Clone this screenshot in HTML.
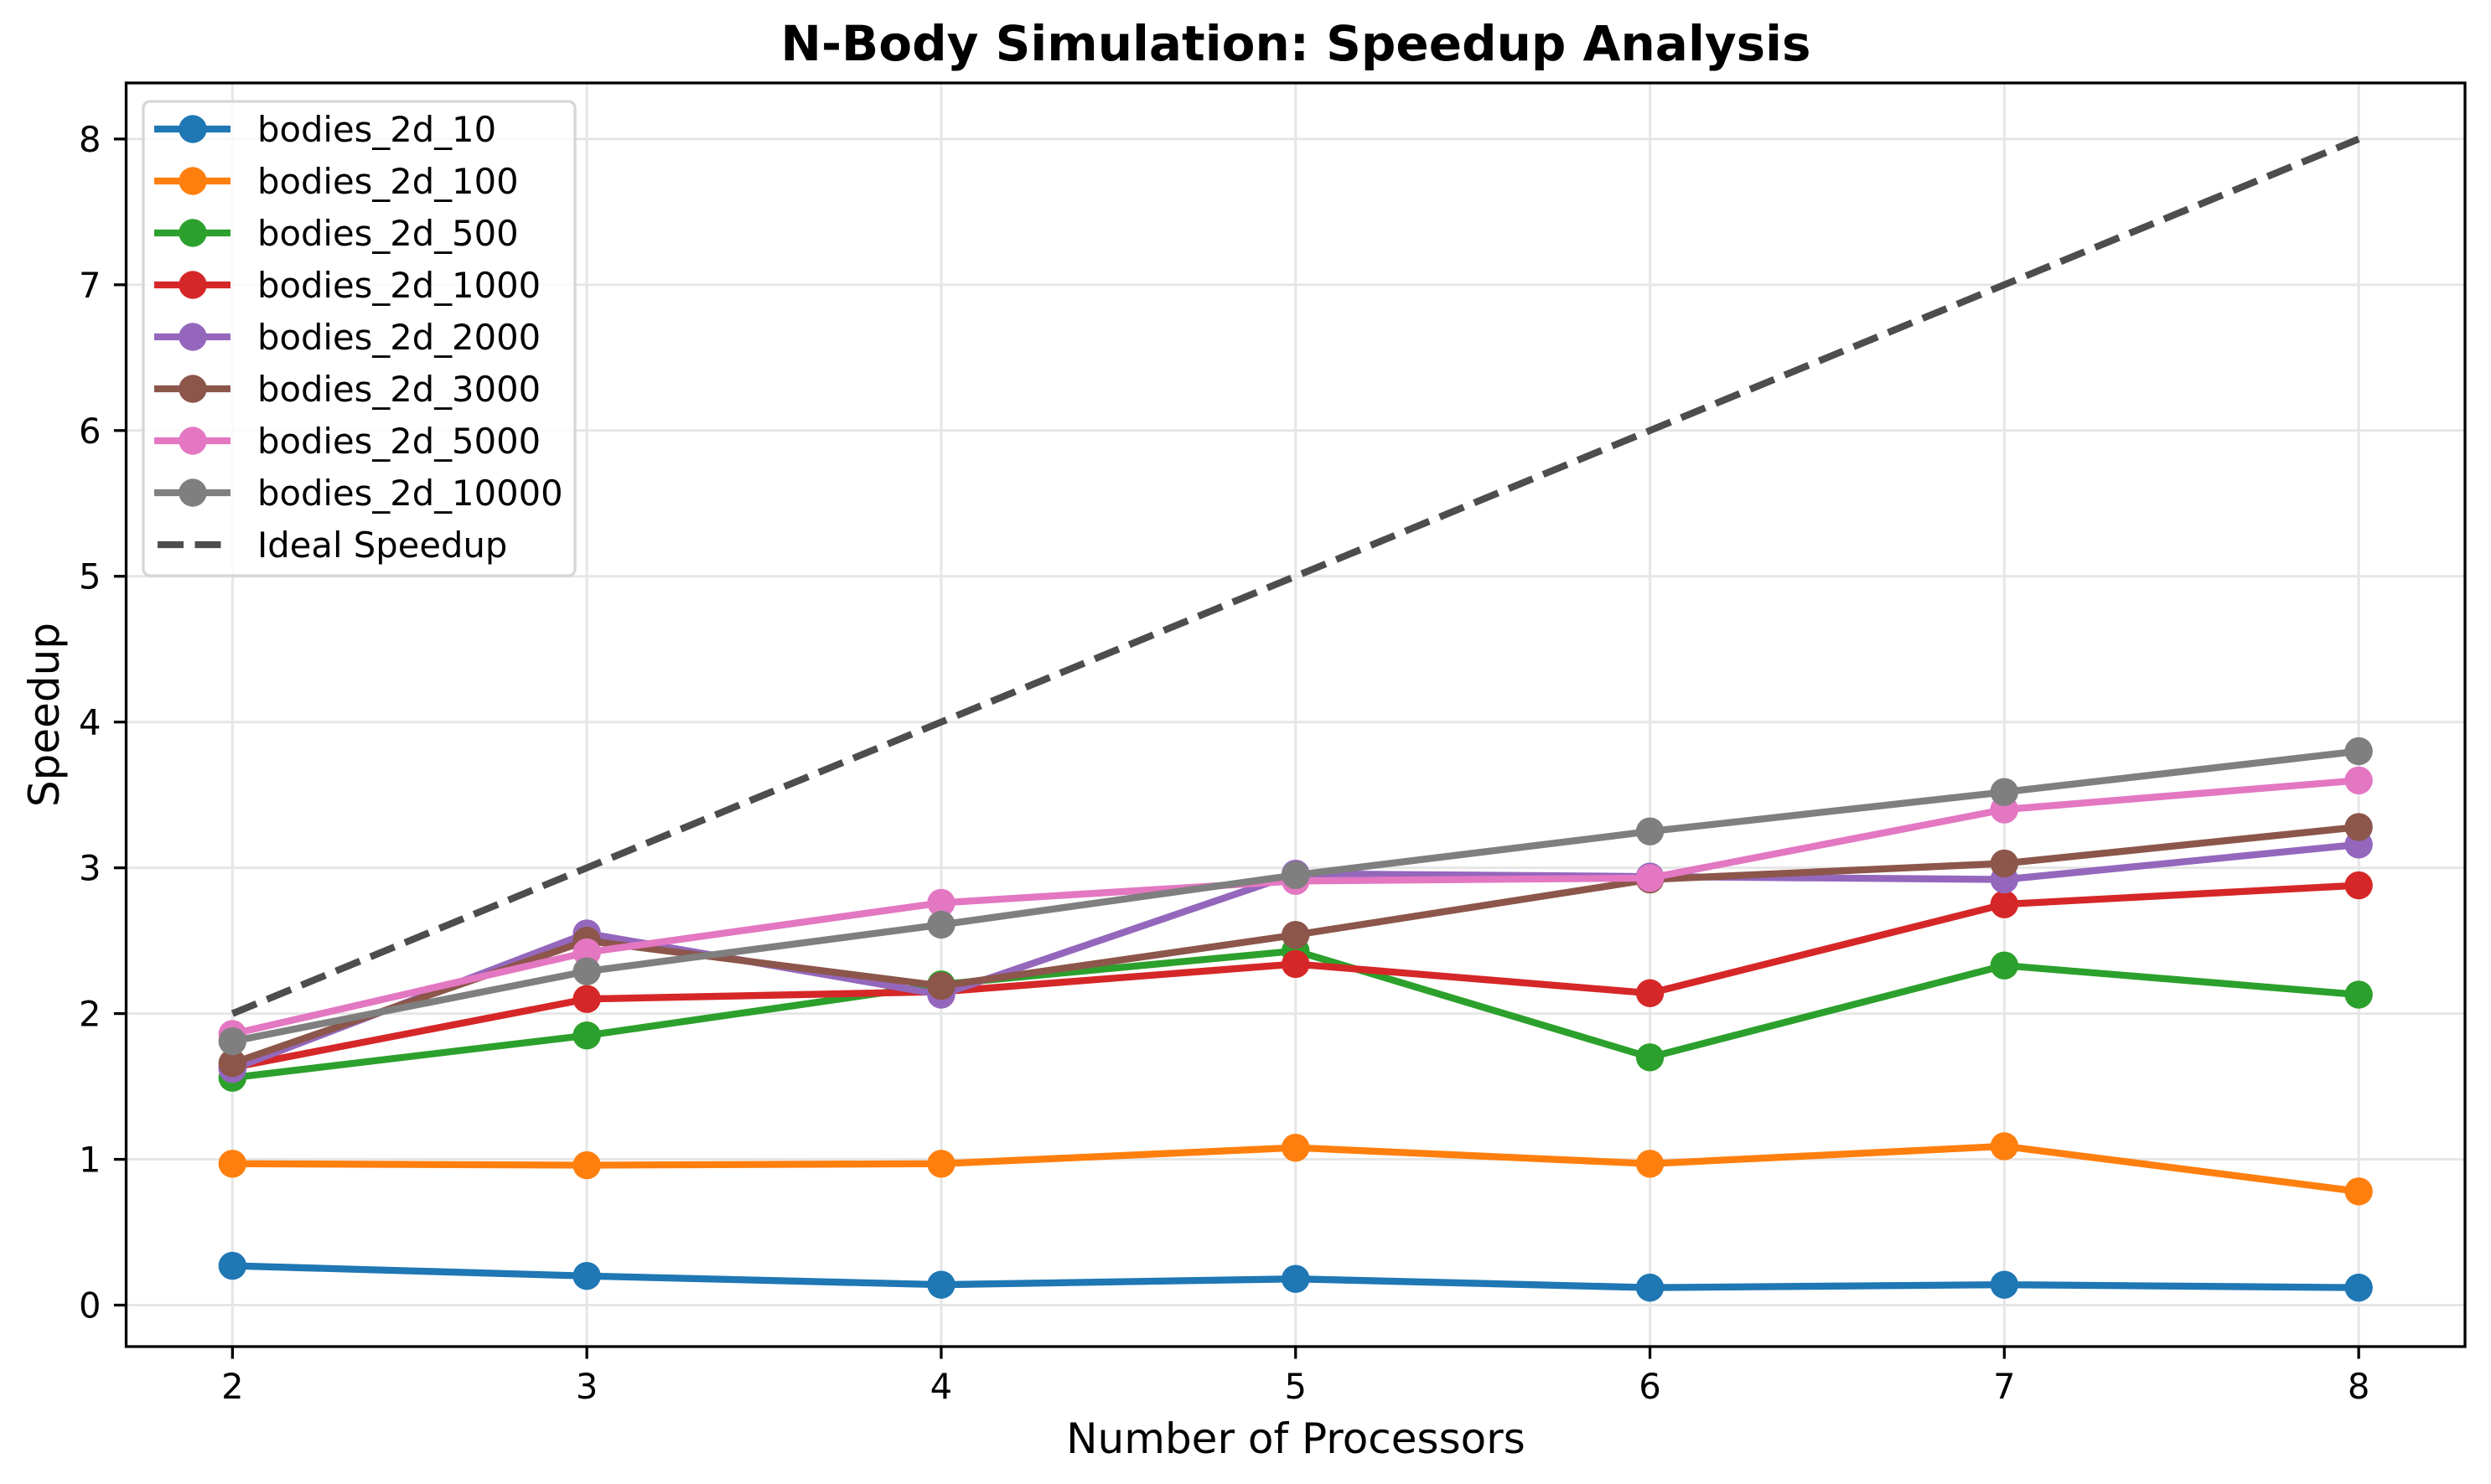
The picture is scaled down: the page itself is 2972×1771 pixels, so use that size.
<!DOCTYPE html>
<html><head><meta charset="utf-8"><style>
html,body{margin:0;padding:0;background:#fff}
svg{display:block;font-family:"DejaVu Sans","Liberation Sans",sans-serif}
</style></head><body>
<svg id="chart" width="2972" height="1771" viewBox="0 0 2972 1771" xmlns="http://www.w3.org/2000/svg">
<rect width="2972" height="1771" fill="#fff"/>
<g id="grid"></g>
<g id="ideal"></g>
<g id="series"></g>
<g id="axes"></g>
<g id="legend"></g>
<text x="1546" y="72" text-anchor="middle" font-size="58" font-weight="bold" fill="#000">N-Body Simulation: Speedup Analysis</text>
<text x="1546" y="1734" text-anchor="middle" font-size="50" fill="#000">Number of Processors</text>
<text transform="translate(70,853) rotate(-90)" text-anchor="middle" font-size="50" fill="#000">Speedup</text>
</svg>
<script>
const processors = [2, 3, 4, 5, 6, 7, 8];
const seriesNames = ["bodies_2d_10","bodies_2d_100","bodies_2d_500","bodies_2d_1000","bodies_2d_2000","bodies_2d_3000","bodies_2d_5000","bodies_2d_10000"];
const s10 = [0.27, 0.20, 0.14, 0.18, 0.12, 0.14, 0.12];
const s100 = [0.97, 0.96, 0.97, 1.08, 0.97, 1.09, 0.78];
const s500 = [1.56, 1.85, 2.20, 2.43, 1.70, 2.33, 2.13];
const s1000 = [1.63, 2.10, 2.15, 2.34, 2.14, 2.75, 2.88];
const s2000 = [1.62, 2.55, 2.13, 2.96, 2.94, 2.92, 3.16];
const s3000 = [1.66, 2.50, 2.19, 2.54, 2.92, 3.03, 3.28];
const s5000 = [1.86, 2.42, 2.76, 2.91, 2.93, 3.40, 3.60];
const s10000 = [1.81, 2.29, 2.61, 2.95, 3.25, 3.52, 3.80];
const ideal = [2, 3, 4, 5, 6, 7, 8];
const colors = ["#1f77b4","#ff7f0e","#2ca02c","#d62728","#9467bd","#8c564b","#e377c2","#7f7f7f"];
const xTicks = [2, 3, 4, 5, 6, 7, 8];
const yTicks = [0, 1, 2, 3, 4, 5, 6, 7, 8];

const allSeries = [s10, s100, s500, s1000, s2000, s3000, s5000, s10000];
const L = 150.5, R = 2941, T = 99, B = 1607;
const xMin = 1.7, xMax = 8.3, yMin = -0.2845, yMax = 8.3845;
const xs = v => L + (v - xMin) / (xMax - xMin) * (R - L);
const ys = v => B - (v - yMin) / (yMax - yMin) * (B - T);
const NS = "http://www.w3.org/2000/svg";
function mk(tag, attrs, parent) {
  const e = document.createElementNS(NS, tag);
  for (const k in attrs) e.setAttribute(k, attrs[k]);
  parent.appendChild(e);
  return e;
}
const grid = document.getElementById('grid');
xTicks.forEach(t => {
  const l = mk('line', {x1: xs(t), x2: xs(t), y1: T, y2: B, stroke: '#e6e6e6', 'stroke-width': 3}, grid);
  
  
});
yTicks.forEach(t => {
  const l = mk('line', {x1: L, x2: R, y1: ys(t), y2: ys(t), stroke: '#e6e6e6', 'stroke-width': 3}, grid);
  
  
});
const idealG = document.getElementById('ideal');
const ip = mk('polyline', {points: processors.map((p, i) => xs(p) + ',' + ys(ideal[i])).join(' '), fill: 'none', stroke: '#4d4d4d', 'stroke-width': 8.3, 'stroke-dasharray': '31 13.5'}, idealG);



const sg = document.getElementById('series');
allSeries.forEach((vals, si) => {
  const g = mk('g', {}, sg);
  
  
  const pl = mk('polyline', {points: processors.map((p, i) => xs(p) + ',' + ys(vals[i])).join(' '), fill: 'none', stroke: colors[si], 'stroke-width': 8.3, 'stroke-linejoin': 'round'}, g);
  
  
  processors.forEach((p, i) => {
    const c = mk('circle', {cx: xs(p), cy: ys(vals[i]), r: 16.7, fill: colors[si]}, g);
    
    
  });
});

const ax = document.getElementById('axes');
const fr = mk('rect', {x: L, y: T, width: R - L, height: B - T, fill: 'none', stroke: '#000', 'stroke-width': 3.3}, ax);


xTicks.forEach(t => {
  const tk = mk('line', {x1: xs(t), x2: xs(t), y1: B, y2: B + 14.6, stroke: '#000', 'stroke-width': 3.3}, ax);
  
  
  const tx = mk('text', {x: xs(t), y: B + 62, 'text-anchor': 'middle', 'font-size': 41.7, fill: '#000'}, ax);
  tx.textContent = t;
  
  
});
yTicks.forEach(t => {
  const tk = mk('line', {x1: L - 14.6, x2: L, y1: ys(t), y2: ys(t), stroke: '#000', 'stroke-width': 3.3}, ax);
  
  
  const tx = mk('text', {x: L - 30, y: ys(t) + 15, 'text-anchor': 'end', 'font-size': 41.7, fill: '#000'}, ax);
  tx.textContent = t;
  
  
});

const lg = document.getElementById('legend');
const box = mk('rect', {x: 171, y: 121, width: 515, height: 566, rx: 8, fill: '#fff', 'fill-opacity': 0.8, stroke: '#d6d6d6', 'stroke-width': 3.3}, lg);


const labels = seriesNames.concat(['Ideal Speedup']);
labels.forEach((name, i) => {
  const y = 154 + i * 62;
  const g = mk('g', {}, lg);
  
  
  if (i < seriesNames.length) {
    mk('line', {x1: 184, x2: 275, y1: y, y2: y, stroke: colors[i], 'stroke-width': 8.3}, g);
    mk('circle', {cx: 230, cy: y, r: 16.7, fill: colors[i]}, g);
  } else {
    mk('line', {x1: 188, x2: 275, y1: y, y2: y, stroke: '#4d4d4d', 'stroke-width': 8.3, 'stroke-dasharray': '31 13.5'}, g);
  }
  const t = mk('text', {x: 307, y: y + 15, 'font-size': 41.7, fill: '#000'}, g);
  t.textContent = name;
});
</script>
</body></html>
